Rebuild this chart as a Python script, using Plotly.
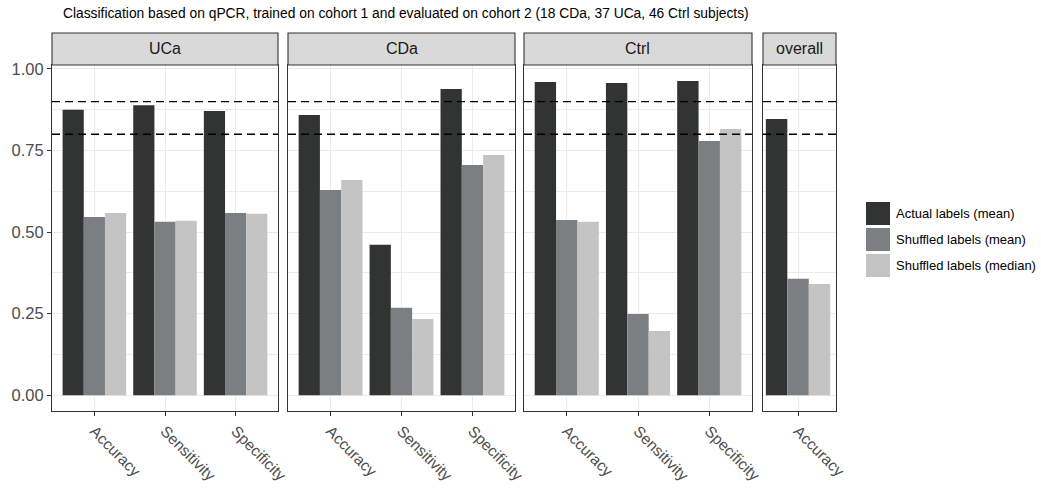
import plotly.graph_objects as go

# ---- data -------------------------------------------------------------
panels = ["UCa", "CDa", "Ctrl", "overall"]
metrics = ["Accuracy", "Sensitivity", "Specificity"]
panel_metrics = [metrics, metrics, metrics, ["Accuracy"]]

series_names = ["Actual labels (mean)", "Shuffled labels (mean)", "Shuffled labels (median)"]
series_colors = ["#313432", "#7c7f81", "#c3c4c3"]

actual_mean = [
    [0.875, 0.889, 0.871],   # UCa
    [0.859, 0.461, 0.939],   # CDa
    [0.960, 0.957, 0.963],   # Ctrl
    [0.847],                 # overall
]
shuffled_mean = [
    [0.546, 0.532, 0.559],
    [0.629, 0.268, 0.706],
    [0.537, 0.249, 0.779],
    [0.357],
]
shuffled_median = [
    [0.559, 0.535, 0.556],
    [0.660, 0.234, 0.736],
    [0.532, 0.197, 0.816],
    [0.341],
]
thresholds = [0.8, 0.9]
y_ticks = [0.0, 0.25, 0.5, 0.75, 1.0]
y_ticktext = ["0.00", "0.25", "0.50", "0.75", "1.00"]

title = ("Classification based on qPCR, trained on cohort 1 and evaluated on "
         "cohort 2 (18 CDa, 37 UCa, 46 Ctrl subjects)")

# ---- layout geometry (pixels) -----------------------------------------
W, H = 1041, 488
FONT = "Liberation Sans, Arial, Helvetica, sans-serif"
BORDER = "#333333"
GRID = "#ebebeb"
TICK_GREY = "#4d4d4d"


def fx(p):
    return p / W


def fy(p):
    return 1 - p / H


panel_px = [(52, 278), (288, 515), (524, 752), (763, 836)]
x_ranges = [[-0.6, 2.6], [-0.6, 2.6], [-0.6, 2.6], [-0.49, 0.53]]
strip_top, plot_top, plot_bottom = 33, 65, 411
y_range = [-0.0482, 1.0122]

fig = go.Figure()
series_values = [actual_mean, shuffled_mean, shuffled_median]

for i, panel in enumerate(panels):
    sfx = "" if i == 0 else str(i + 1)
    for name, color, vals in zip(series_names, series_colors, series_values):
        fig.add_trace(go.Bar(
            x=panel_metrics[i], y=vals[i], name=name,
            marker=dict(color=color, line=dict(width=0)),
            xaxis="x" + sfx, yaxis="y" + sfx, showlegend=False,
        ))

    x0, x1 = panel_px[i]
    fig.layout["xaxis" + sfx] = dict(
        domain=[fx(x0), fx(x1)], anchor="y" + sfx, type="category",
        range=x_ranges[i], showline=True, mirror=True, linecolor=BORDER,
        linewidth=1.1, ticks="outside", ticklen=4, tickwidth=1.1,
        tickcolor=BORDER, tickangle=45, automargin=False,
        tickfont=dict(family=FONT, size=15.5, color=TICK_GREY),
        showgrid=True, gridcolor=GRID, gridwidth=1.1, zeroline=False,
        fixedrange=True,
    )
    first = i == 0
    fig.layout["yaxis" + sfx] = dict(
        domain=[fy(plot_bottom), fy(plot_top)], anchor="x" + sfx,
        range=y_range, tickvals=y_ticks, ticktext=y_ticktext,
        showticklabels=first, ticks="outside" if first else "",
        ticklen=4, tickwidth=1.1, tickcolor=BORDER, automargin=False,
        tickfont=dict(family=FONT, size=16.5, color=TICK_GREY),
        showline=True, mirror=True, linecolor=BORDER, linewidth=1.1,
        showgrid=True, gridcolor=GRID, gridwidth=1.1, zeroline=False,
        minor=dict(tickvals=[0.125, 0.375, 0.625, 0.875], showgrid=True,
                   gridcolor=GRID, gridwidth=0.55, ticks=""),
        fixedrange=True,
    )

    # facet strip
    fig.add_shape(type="rect", xref="paper", yref="paper",
                  x0=fx(x0), x1=fx(x1), y0=fy(plot_top), y1=fy(strip_top),
                  fillcolor="#d9d9d9", line=dict(color=BORDER, width=1.1),
                  layer="above")
    fig.add_annotation(text=panel, xref="paper", yref="paper",
                       x=fx((x0 + x1) / 2), y=fy((strip_top + plot_top) / 2),
                       xanchor="center", yanchor="middle", showarrow=False,
                       font=dict(family=FONT, size=16, color="#1a1a1a"))

    # reference thresholds
    for t in thresholds:
        fig.add_shape(type="line", xref="x" + sfx + " domain", yref="y" + sfx,
                      x0=0, x1=1, y0=t, y1=t, layer="above",
                      line=dict(color="black", width=1.3, dash="8px,5px"))

# legend drawn as key squares + labels
key_x0, key_x1 = 866, 890
key_tops = [202, 228, 254]
key_h = 23
for name, color, ktop in zip(series_names, series_colors, key_tops):
    fig.add_shape(type="rect", xref="paper", yref="paper",
                  x0=fx(key_x0), x1=fx(key_x1), y0=fy(ktop + key_h), y1=fy(ktop),
                  fillcolor=color, line=dict(width=0))
    fig.add_annotation(text=name, xref="paper", yref="paper",
                       x=fx(894), y=fy(ktop + key_h / 2), xanchor="left",
                       yanchor="middle", showarrow=False,
                       font=dict(family=FONT, size=13, color="black"))

# title and panel tag
fig.add_annotation(text=title, xref="paper", yref="paper", x=fx(61), y=fy(14),
                   xanchor="left", yanchor="middle", showarrow=False,
                   font=dict(family=FONT, size=13.8, color="black"))
fig.add_annotation(text="<b>A</b>", xref="paper", yref="paper", x=fx(9), y=fy(-7),
                   xanchor="right", yanchor="middle", showarrow=False,
                   font=dict(family=FONT, size=16, color="black"))

fig.update_layout(
    width=W, height=H, margin=dict(l=0, r=0, t=0, b=0, autoexpand=False),
    paper_bgcolor="white", plot_bgcolor="white",
    barmode="group", bargap=0.1, bargroupgap=0,
    showlegend=False,
)

fig.write_html("out.html")
